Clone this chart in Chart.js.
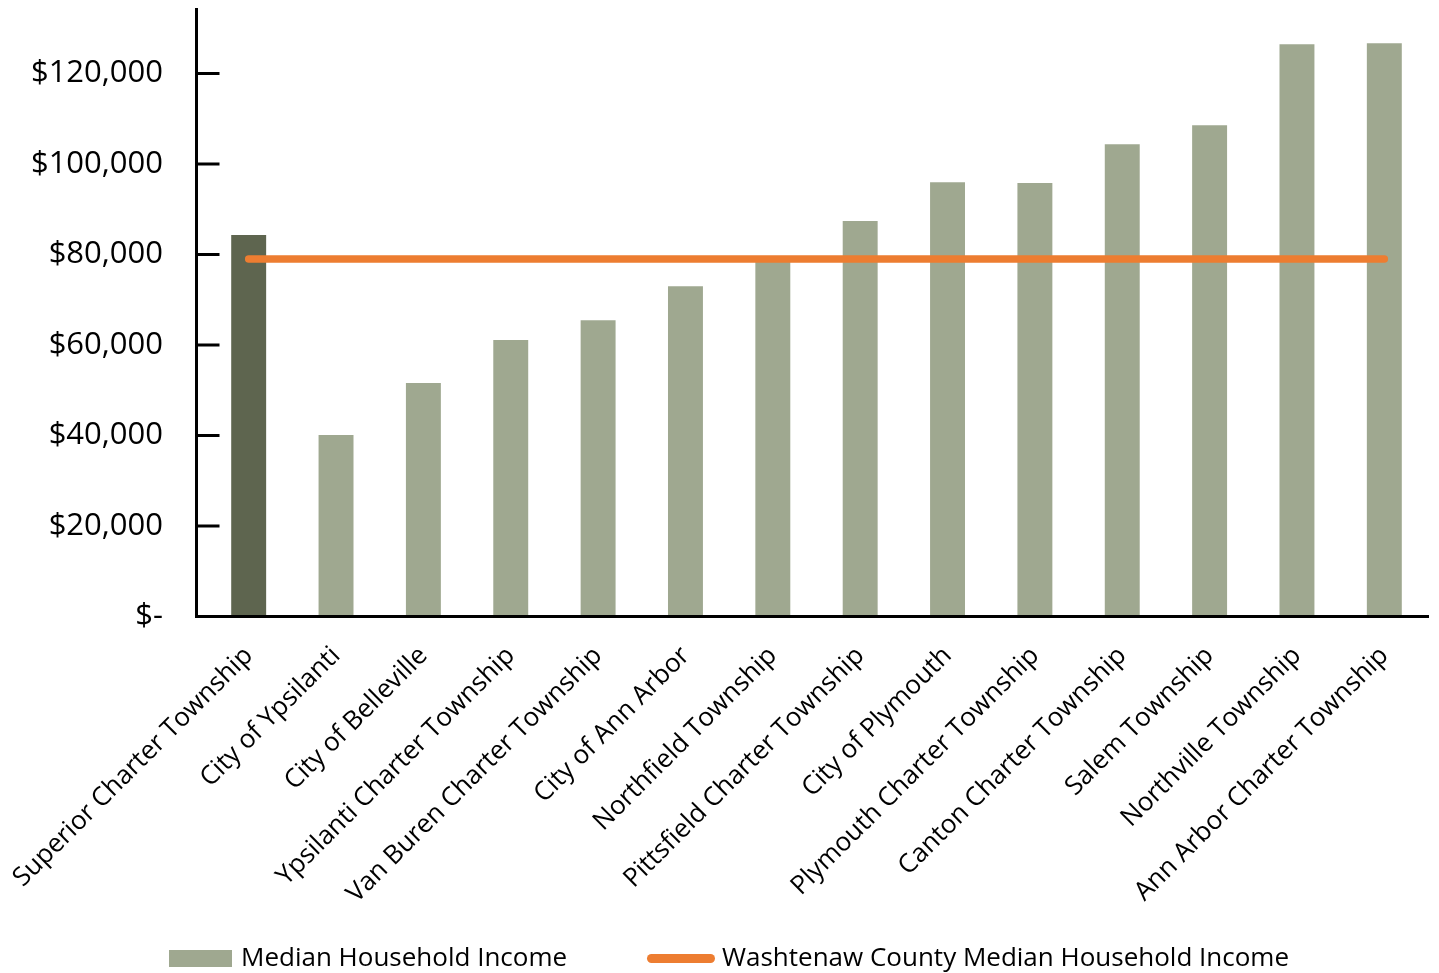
<!DOCTYPE html>
<html>
<head>
<meta charset="utf-8">
<script src="https://cdn.jsdelivr.net/npm/chart.js@4.4.1/dist/chart.umd.min.js"></script>
<style>
  html, body { margin: 0; padding: 0; background: #ffffff; overflow: hidden; }
  #wrap { position: relative; width: 1439px; height: 973px; }
  #chart { position: absolute; left: 0; top: 0; }
  .legend { position: absolute; top: 940px; left: 0; width: 1439px; height: 33px;
            font-family: 'Open Sans', sans-serif; font-size: 26px; color: #000; }
  .legend .label { white-space: nowrap; line-height: 33px; }
</style>
</head>
<body>
<div id="wrap">
  <canvas id="chart" width="1439" height="973"></canvas>
  <div class="legend" id="legend"></div>
</div>
<script>
// Communities, ordered by median household income
const communities = [
  'Superior Charter Township',
  'City of Ypsilanti',
  'City of Belleville',
  'Ypsilanti Charter Township',
  'Van Buren Charter Township',
  'City of Ann Arbor',
  'Northfield Township',
  'Pittsfield Charter Township',
  'City of Plymouth',
  'Plymouth Charter Township',
  'Canton Charter Township',
  'Salem Township',
  'Northville Township',
  'Ann Arbor Charter Township'
];

// Median household income per community (USD)
const medianIncome = [
  84300, 40100, 51600, 61100, 65500, 73000, 78600,
  87400, 96000, 95800, 104400, 108600, 126500, 126700
];

// County-wide median household income (USD)
const countyMedian = 79000;
const countyLine = communities.map(() => countyMedian);

// Value axis ticks and range
const yTickValues = [0, 20000, 40000, 60000, 80000, 100000, 120000];
const yMax = 134500;

const seriesNames = ['Median Household Income', 'Washtenaw County Median Household Income'];

const BAR_COLOR = '#9FA890';
const HIGHLIGHT_COLOR = '#5E654F';
const LINE_COLOR = '#ED7D31';
const FONT = "'Open Sans', sans-serif";

const barColors = communities.map((c, i) => i === 0 ? HIGHLIGHT_COLOR : BAR_COLOR);

function formatDollars(v) {
  if (v === 0) return '$-';
  return '$' + v.toLocaleString('en-US');
}

// Axis lines plus inward tick marks on the value axis
const axisLines = {
  id: 'axisLines',
  afterDatasetsDraw(chart) {
    const { ctx, chartArea, scales } = chart;
    const y = scales.y;
    const axisX = chartArea.left - 8.5;
    const zeroY = y.getPixelForValue(0);
    ctx.save();
    ctx.strokeStyle = '#000000';
    ctx.lineWidth = 3;
    ctx.lineCap = 'butt';
    ctx.beginPath();
    ctx.moveTo(axisX, chartArea.top);
    ctx.lineTo(axisX, zeroY + 1.5);
    ctx.moveTo(axisX - 1.5, zeroY);
    ctx.lineTo(chartArea.right + 1, zeroY);
    y.ticks.forEach(t => {
      if (t.value === 0) return;
      const py = y.getPixelForValue(t.value);
      ctx.moveTo(axisX, py);
      ctx.lineTo(axisX + 23, py);
    });
    ctx.stroke();
    ctx.restore();
  }
};

const chart = new Chart(document.getElementById('chart'), {
  data: {
    labels: communities,
    datasets: [
      {
        type: 'line',
        label: seriesNames[1],
        data: countyLine,
        borderColor: LINE_COLOR,
        borderWidth: 7.5,
        borderCapStyle: 'round',
        pointRadius: 0,
        fill: false,
        order: 0
      },
      {
        type: 'bar',
        label: seriesNames[0],
        data: medianIncome,
        backgroundColor: barColors,
        borderWidth: 0,
        categoryPercentage: 1,
        barPercentage: 0.4,
        order: 1
      }
    ]
  },
  options: {
    responsive: false,
    animation: false,
    devicePixelRatio: 1,
    layout: { padding: { left: 0, right: 11, top: 8, bottom: 0 } },
    plugins: {
      legend: { display: false },
      title: { display: false },
      tooltip: { enabled: false }
    },
    scales: {
      x: {
        type: 'category',
        offset: true,
        grid: { display: false, drawTicks: false },
        border: { display: false },
        ticks: {
          autoSkip: false,
          minRotation: 45,
          maxRotation: 45,
          padding: 24,
          color: '#000000',
          font: { family: FONT, size: 26 }
        },
        afterFit(scale) {
          scale.height = 356.5;
          scale.paddingLeft = 0;
          scale.paddingRight = 0;
        }
      },
      y: {
        type: 'linear',
        min: 0,
        max: yMax,
        grid: { display: false, drawTicks: false },
        border: { display: false },
        afterBuildTicks(scale) {
          scale.ticks = yTickValues.map(v => ({ value: v }));
        },
        ticks: {
          autoSkip: false,
          padding: 42,
          color: '#000000',
          font: { family: FONT, size: 31 },
          callback: (v) => formatDollars(v)
        },
        afterFit(scale) {
          scale.width = 205;
          scale.paddingTop = 0;
          scale.paddingBottom = 0;
        }
      }
    }
  },
  plugins: [axisLines]
});

// Legend, built from the dataset styles
(function buildLegend() {
  const legend = document.getElementById('legend');
  const items = [
    { left: 169, text: seriesNames[0], swatch: { w: 63, h: 17, bg: BAR_COLOR, r: 0 }, textLeft: 241 },
    { left: 647, text: seriesNames[1], swatch: { w: 68, h: 9, bg: LINE_COLOR, r: 4.5 }, textLeft: 722 }
  ];
  items.forEach(it => {
    const sw = document.createElement('span');
    sw.style.position = 'absolute';
    sw.style.left = it.left + 'px';
    sw.style.top = (18 - it.swatch.h / 2) + 'px';
    sw.style.width = it.swatch.w + 'px';
    sw.style.height = it.swatch.h + 'px';
    sw.style.background = it.swatch.bg;
    sw.style.borderRadius = it.swatch.r + 'px';
    legend.appendChild(sw);
    const lb = document.createElement('span');
    lb.className = 'label';
    lb.style.position = 'absolute';
    lb.style.left = it.textLeft + 'px';
    lb.style.top = '0px';
    lb.textContent = it.text;
    legend.appendChild(lb);
  });
})();
</script>
</body>
</html>
